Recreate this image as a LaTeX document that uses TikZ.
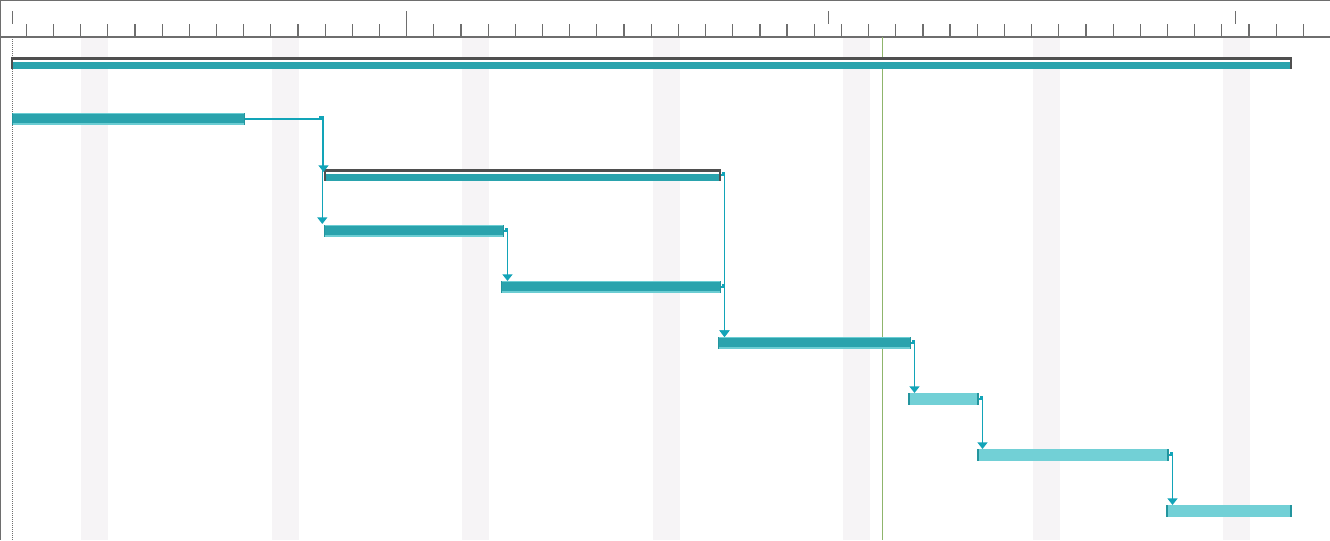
\documentclass[tikz,border=0pt]{standalone}
\usetikzlibrary{arrows.meta,fit,calc}
\definecolor{tealD}{HTML}{2AA3AD}
\definecolor{tealL}{HTML}{6CCDD3}
\definecolor{tealP}{HTML}{72D0D6}
\definecolor{tealE}{HTML}{23959E}
\definecolor{conn}{HTML}{12A4B8}
\definecolor{sumdark}{HTML}{4F4F4F}
\definecolor{gridc}{HTML}{6E6E6E}
\definecolor{nowc}{HTML}{8FB56C}
\definecolor{wkend}{HTML}{F6F4F6}
\tikzset{
  summary/.style={fill=white, inner sep=0pt, outer sep=0pt,
    path picture={
      \fill[tealD] ([yshift=-4.1pt]path picture bounding box.north west) rectangle (path picture bounding box.south east);
      \fill[sumdark] (path picture bounding box.north west) rectangle ([yshift=-2.25pt]path picture bounding box.north east);
      \fill[sumdark] (path picture bounding box.north west) rectangle ([xshift=1.5pt]path picture bounding box.south west);
      \fill[sumdark] (path picture bounding box.north east) rectangle ([xshift=-1.5pt]path picture bounding box.south east);
    }},
  taskbar/.style={fill=tealD, inner sep=0pt, outer sep=0pt,
    path picture={
      \fill[tealL] (path picture bounding box.north west) rectangle ([yshift=-1pt]path picture bounding box.north east);
      \fill[tealL] (path picture bounding box.south west) rectangle ([yshift=1.4pt]path picture bounding box.south east);
      \fill[tealE] (path picture bounding box.north west) rectangle ([xshift=0.9pt]path picture bounding box.south west);
      \fill[tealE] (path picture bounding box.north east) rectangle ([xshift=-0.9pt]path picture bounding box.south east);
    }},
  lightbar/.style={fill=tealP, inner sep=0pt, outer sep=0pt,
    path picture={
      \fill[tealE] (path picture bounding box.north west) rectangle ([xshift=1.5pt]path picture bounding box.south west);
      \fill[tealE] (path picture bounding box.north east) rectangle ([xshift=-1.5pt]path picture bounding box.south east);
    }},
  link/.style={draw=conn, line width=1pt, -{Triangle[width=7.5pt,length=5pt]}},
  tick/.style={draw=gridc, line width=0.9pt},
}
\begin{document}
\begin{tikzpicture}[x=0.75pt,y=-0.75pt]
\useasboundingbox (0,0) rectangle (1330,540);
\fill[white] (0,0) rectangle (1330,540);
% weekend columns
\foreach \x in {80.5,271.5,462,652.5,843,1033,1223}
  \fill[wkend] (\x,38) rectangle ++(27,502);
% header
\draw[gridc, line width=1pt] (0,0.6) -- (1330,0.6);
\draw[gridc, line width=1pt] (0,37) -- (1330,37);
\draw[gridc, line width=1pt] (0.6,0) -- (0.6,540);
\foreach \n in {0,...,47} {
  \pgfmathsetmacro\xx{26.3+27.17*\n}
  \draw[tick] (\xx,24) -- (\xx,37);
}
\draw[tick] (406.7,11) -- (406.7,37);
\foreach \x in {12.3,828.3,1235.3}
  \draw[tick] (\x,11) -- (\x,24);
% project start (dotted) and today line
\draw[gridc, line width=1pt, dash pattern=on 0.75pt off 0.75pt] (12.3,37) -- (12.3,540);
\draw[nowc, line width=0.8pt] (882.3,37) -- (882.3,540);
% bars
\node[summary, fit={(11,57) (1292,69)}] (p0) {};
\node[taskbar, fit={(12,113) (245,125)}] (t1) {};
\node[summary, fit={(324,169) (721,181)}] (p1) {};
\node[taskbar, fit={(324,225) (504,237)}] (t3) {};
\node[taskbar, fit={(501,281) (721,293)}] (t4) {};
\node[taskbar, fit={(718,337) (911,349)}] (t5) {};
\node[lightbar, fit={(908,393) (979,405)}] (t6) {};
\node[lightbar, fit={(977,449) (1169,461)}] (t7) {};
\node[lightbar, fit={(1166,505) (1292,517)}] (t8) {};
% connectors
\draw[link] (t1.east) -- ($(p1.north west |- t1.east)+(-4,0)$) -- ++(0,-2) -- ++(3.5,0) -- ($(p1.north west)+(-0.5,3)$);
\draw[link] (t1.east) -- ($(t3.north west |- t1.east)+(-1.7,0)$) -- ($(t3.north west)+(-1.7,-1)$);
\draw[link] (p1.east) -- ++(2,0) -- ++(0,-2) -- ++(1.5,0) -- ($(t5.north west)+(6.5,0)$);
\draw[link] (t3.east) -- ++(2,0) -- ++(0,-2) -- ++(1.5,0) -- ($(t4.north west)+(6.5,0)$);
\draw[link] (t4.east) -- ++(2,0) -- ++(0,-2) -- ++(1.5,0) -- ($(t5.north west)+(6.5,0)$);
\draw[link] (t5.east) -- ++(2,0) -- ++(0,-2) -- ++(1.5,0) -- ($(t6.north west)+(6.5,0)$);
\draw[link] (t6.east) -- ++(2,0) -- ++(0,-2) -- ++(1.5,0) -- ($(t7.north west)+(5.5,0)$);
\draw[link] (t7.east) -- ++(2,0) -- ++(0,-2) -- ++(1.5,0) -- ($(t8.north west)+(6.5,0)$);
\end{tikzpicture}
\end{document}
